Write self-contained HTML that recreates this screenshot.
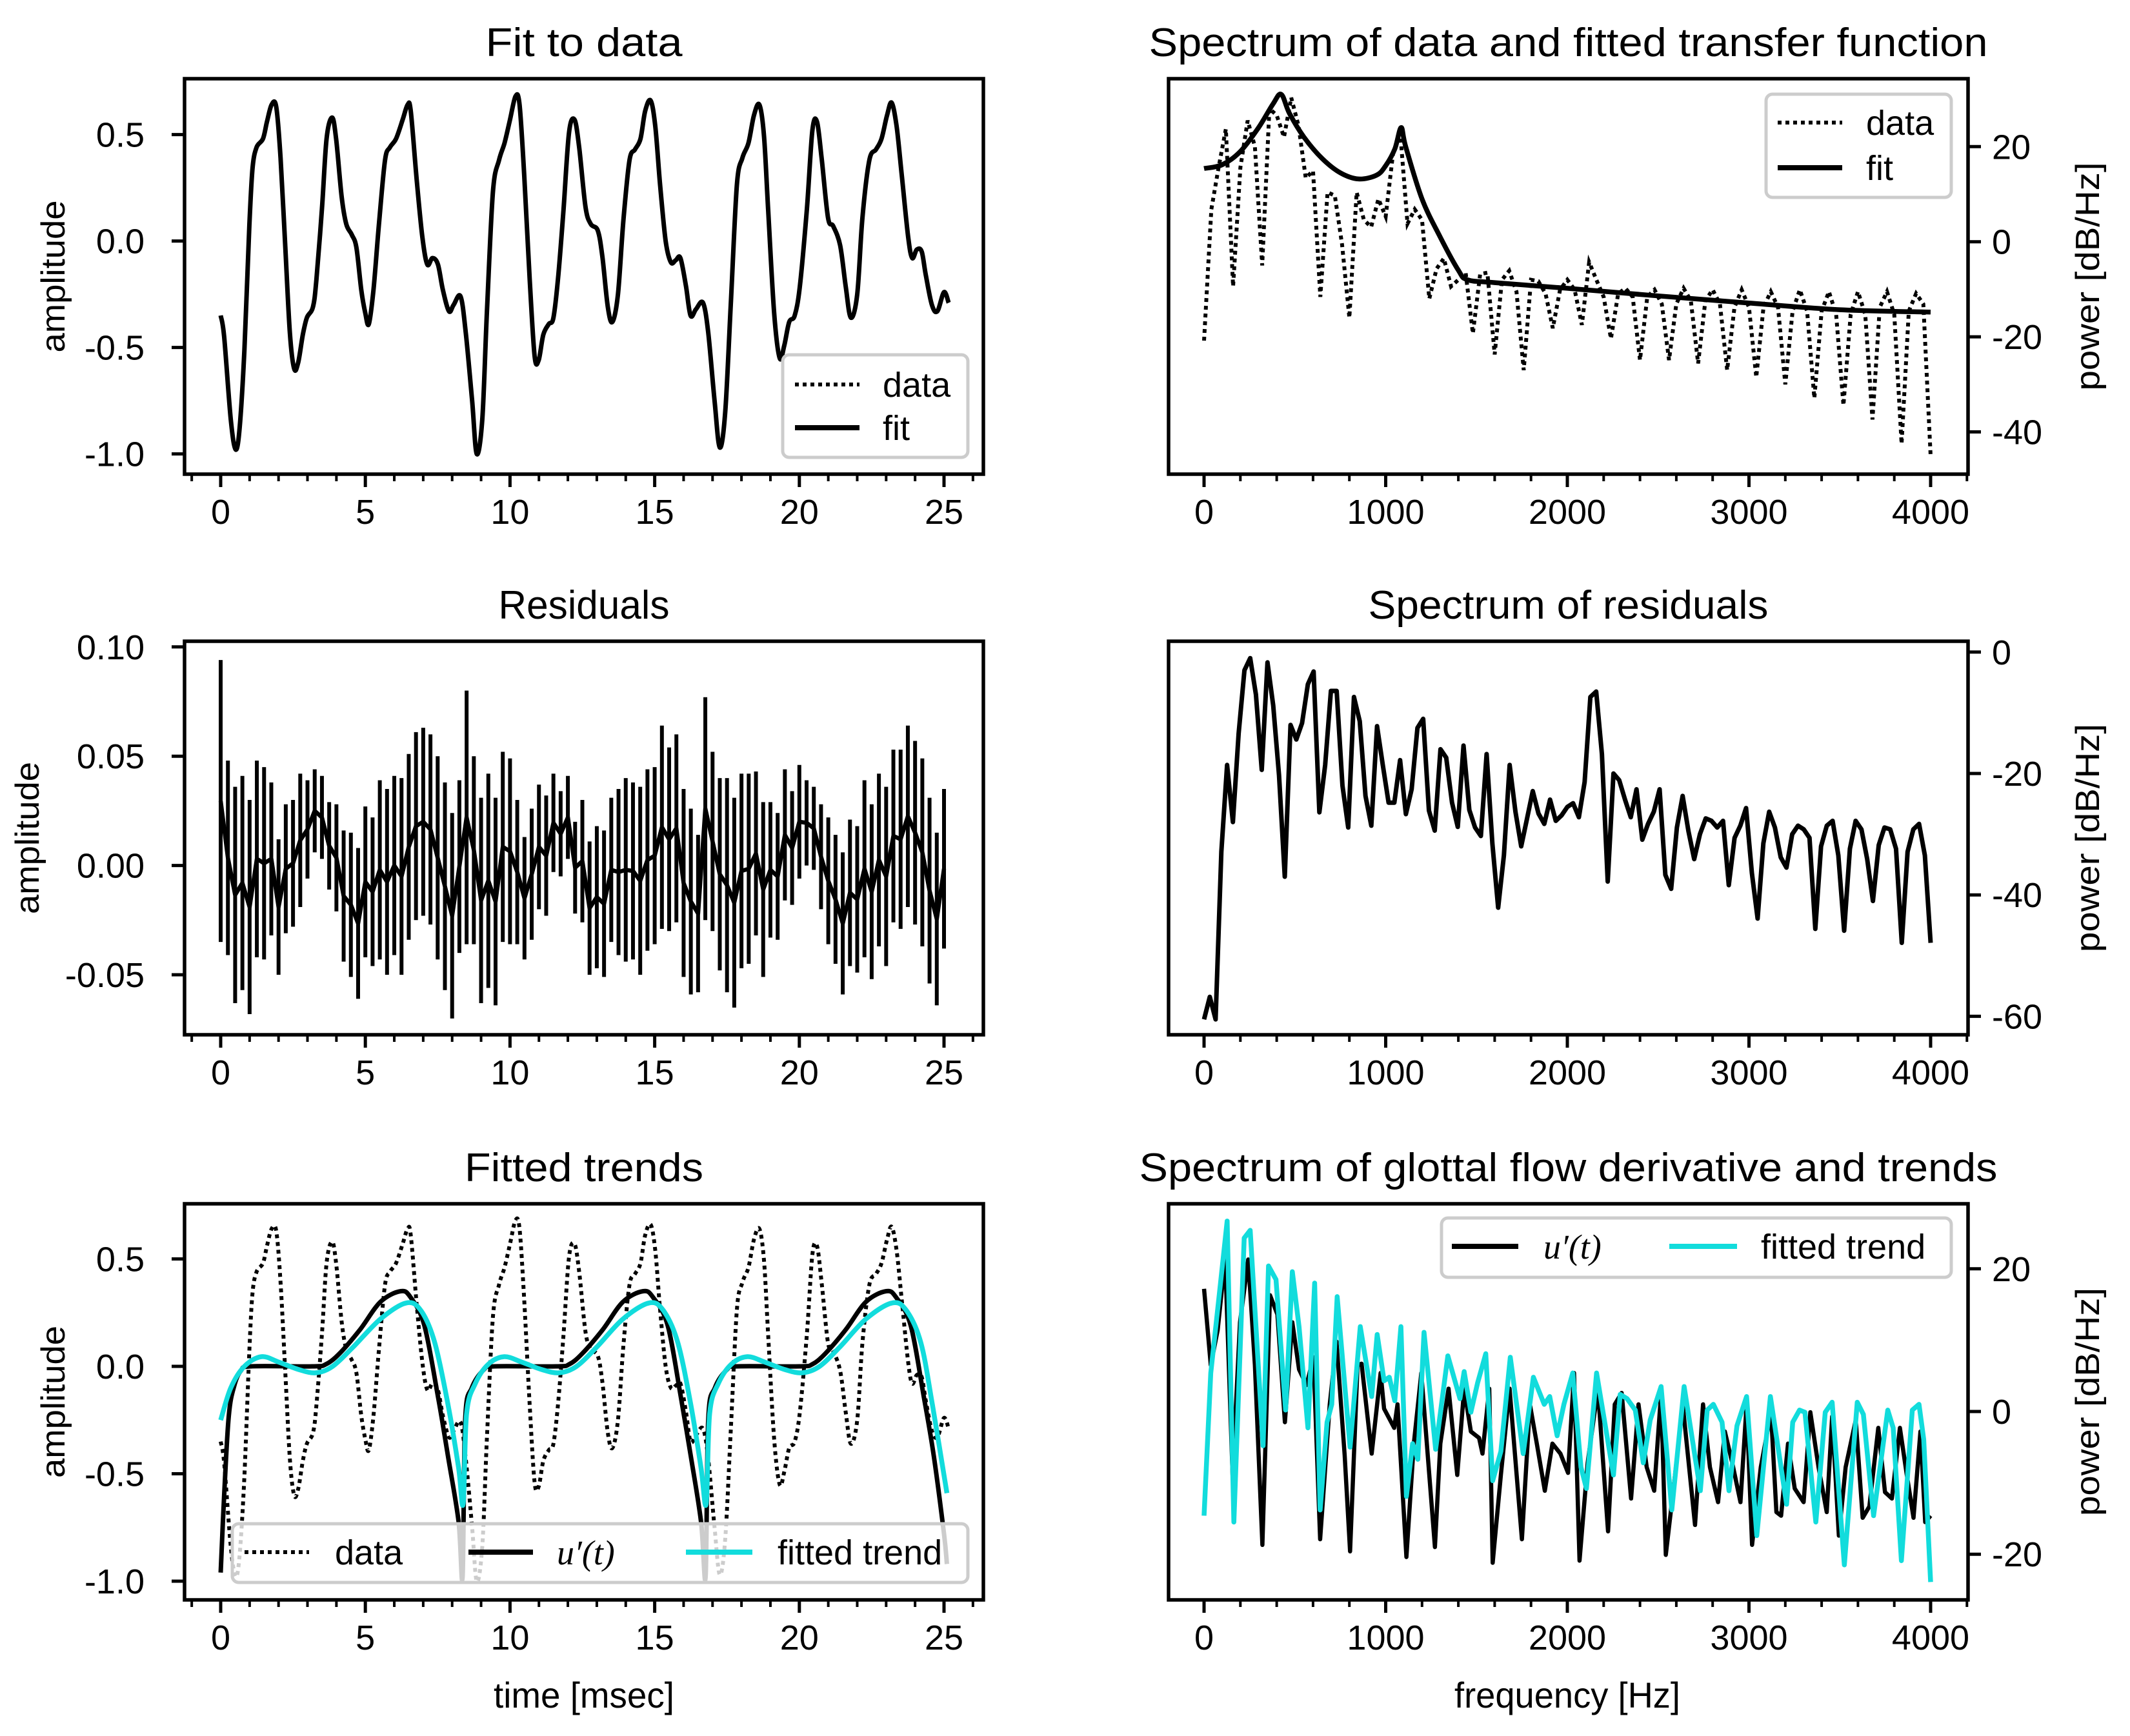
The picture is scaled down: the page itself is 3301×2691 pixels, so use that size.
<!DOCTYPE html>
<html><head><meta charset="utf-8"><title>Glottal analysis figure</title>
<style>
html,body{margin:0;padding:0;background:#fff;}
svg{display:block;font-family:"Liberation Sans",sans-serif;}
</style></head>
<body>
<svg id="fig" xmlns="http://www.w3.org/2000/svg" width="3301" height="2691" viewBox="0 0 3301 2691">
<rect x="0" y="0" width="3301" height="2691" fill="#fff"/>
</svg>
<script>
// ---------- data ----------
const waveT = [0,0.12,0.35,0.52,0.66,0.82,0.99,1.10,1.24,1.46,1.60,1.76,1.92,2.07,2.23,2.39,2.54,2.68,2.84,2.98,3.19,3.31,3.50,3.66,3.85,3.99,4.18,4.34,4.53,4.69,4.86,5.00,5.12,5.28,5.47,5.68,5.85,6.06,6.29,6.46,6.57,6.78,6.97,7.14,7.32,7.51,7.68,7.89,8.05,8.29,8.47,8.69,8.85,9.04,9.20,9.41,9.62,9.81,10.0,10.19,10.33,10.49,10.68,10.85,10.99,11.15,11.34,11.50,11.67,11.85,12.04,12.23,12.39,12.61,12.79,13.03,13.19,13.38,13.54,13.73,13.92,14.13,14.32,14.51,14.67,14.86,15.02,15.19,15.38,15.56,15.73,15.89,16.08,16.24,16.43,16.67,16.85,17.07,17.25,17.44,17.63,17.84,18.03,18.24,18.43,18.62,18.78,18.92,19.13,19.32,19.48,19.65,19.84,20.02,20.26,20.45,20.61,20.77,20.99,21.17,21.41,21.60,21.78,22.0,22.18,22.42,22.65,22.84,23.03,23.19,23.36,23.54,23.76,23.90,24.06,24.23,24.37,24.58,24.77,25.0,25.16];
const waveV = [-0.35,-0.45,-0.84,-0.98,-0.87,-0.51,0.07,0.34,0.44,0.48,0.56,0.64,0.63,0.39,-0.02,-0.43,-0.60,-0.57,-0.44,-0.36,-0.31,-0.18,0.15,0.48,0.58,0.48,0.21,0.08,0.03,-0.03,-0.23,-0.34,-0.39,-0.23,0.08,0.38,0.44,0.48,0.57,0.64,0.61,0.28,0.02,-0.11,-0.08,-0.11,-0.23,-0.33,-0.30,-0.26,-0.43,-0.75,-1.00,-0.84,-0.34,0.23,0.38,0.46,0.57,0.68,0.64,0.31,-0.18,-0.54,-0.56,-0.44,-0.39,-0.36,-0.16,0.15,0.51,0.57,0.44,0.16,0.08,0.05,-0.07,-0.31,-0.38,-0.25,0.10,0.38,0.43,0.48,0.61,0.66,0.54,0.26,0.00,-0.10,-0.09,-0.08,-0.21,-0.35,-0.32,-0.29,-0.43,-0.75,-0.97,-0.80,-0.30,0.26,0.39,0.46,0.59,0.64,0.49,0.15,-0.34,-0.55,-0.49,-0.38,-0.35,-0.21,0.15,0.52,0.56,0.39,0.11,0.07,-0.02,-0.21,-0.36,-0.25,0.11,0.38,0.43,0.48,0.59,0.65,0.54,0.31,0.02,-0.08,-0.04,-0.05,-0.16,-0.30,-0.33,-0.24,-0.29];

const residStep = 0.25;
const residHi = [0.094,0.048,0.036,0.041,0.030,0.048,0.045,0.038,0.012,0.028,0.030,0.042,0.039,0.044,0.041,0.029,0.028,0.016,0.015,0.008,0.027,0.022,0.039,0.035,0.041,0.040,0.051,0.061,0.063,0.060,0.050,0.038,0.024,0.039,0.080,0.050,0.031,0.042,0.031,0.052,0.049,0.030,0.013,0.026,0.037,0.032,0.042,0.034,0.041,0.020,0.030,0.011,0.018,0.016,0.031,0.035,0.040,0.038,0.036,0.044,0.045,0.064,0.054,0.060,0.035,0.026,0.014,0.077,0.052,0.040,0.040,0.031,0.042,0.042,0.043,0.029,0.029,0.024,0.044,0.034,0.046,0.039,0.036,0.028,0.022,0.014,0.006,0.021,0.018,0.039,0.028,0.042,0.036,0.053,0.053,0.064,0.057,0.049,0.031,0.015,0.035];
const residLo = [-0.035,-0.041,-0.063,-0.057,-0.068,-0.042,-0.043,-0.032,-0.050,-0.031,-0.028,-0.019,-0.006,0.006,0.003,-0.011,-0.021,-0.044,-0.051,-0.061,-0.042,-0.046,-0.043,-0.050,-0.041,-0.050,-0.034,-0.025,-0.023,-0.027,-0.043,-0.057,-0.070,-0.040,-0.036,-0.036,-0.063,-0.056,-0.064,-0.035,-0.036,-0.036,-0.043,-0.034,-0.020,-0.023,-0.003,-0.005,0.003,-0.022,-0.026,-0.050,-0.047,-0.051,-0.035,-0.041,-0.044,-0.043,-0.050,-0.039,-0.036,-0.029,-0.030,-0.026,-0.051,-0.059,-0.058,-0.025,-0.030,-0.048,-0.058,-0.065,-0.047,-0.045,-0.032,-0.051,-0.033,-0.034,-0.016,-0.018,-0.006,0.000,-0.002,-0.020,-0.036,-0.045,-0.059,-0.046,-0.049,-0.042,-0.052,-0.037,-0.046,-0.026,-0.029,-0.019,-0.027,-0.037,-0.054,-0.064,-0.038];

const specDataMax = 4000;
const specData = [-20.8,6.8,15.6,23.7,-9.4,15.6,25.5,20,-5,28,26.6,22,30.3,24.4,13.4,14.9,-11.6,10.4,9.7,-0.6,-16,10.4,4.6,3.1,9,5.3,18.5,23,3.8,6.8,4.6,-12,-5.7,-3.5,-9.4,-8,-6.5,-19.3,-6.8,-6.5,-23.7,-8,-6.1,-10.5,-27,-8,-8.3,-10.9,-18.2,-10.1,-8,-10.1,-17.5,-4.3,-8,-11.6,-20.4,-10.9,-9.8,-11.6,-24.9,-11.6,-10.1,-13.1,-24.9,-13.1,-9.8,-12.4,-25.6,-12.4,-10.1,-13.1,-27,-13.8,-10.1,-13.8,-28.5,-13.8,-10.5,-13.8,-30,-14.6,-10.1,-14.6,-32.9,-14.6,-10.5,-15.3,-34.4,-15.3,-10.5,-15.3,-37.4,-13.8,-10.5,-15.3,-42.5,-14.6,-10.9,-13.1,-45];
const fitF = [0,100,200,300,380,425,470,550,650,750,850,950,1000,1050,1085,1110,1200,1300,1400,1450,1600,2000,2500,3000,3500,4000];
const fitDb = [15.4,16.2,19,24,29,31,27,22,17.5,14.5,13.2,14,16,19.5,24,20,9,1,-6,-8,-8.6,-9.8,-11.4,-12.9,-14.3,-14.8];

const residSpec = [-60.5,-56.8,-60.5,-32.9,-18.6,-28,-13.4,-3,-1,-7,-19.4,-1.7,-8.8,-20.3,-37,-12,-14.4,-11.7,-5.3,-3.2,-26.4,-18.6,-6.4,-6.4,-22,-28.9,-7.4,-11.4,-23.7,-28.6,-12.2,-18.6,-24.8,-24.8,-17.8,-26.7,-22.6,-12.5,-11,-26.1,-29.4,-16,-17.4,-24.8,-28.8,-15.4,-26,-28.9,-30.3,-16.8,-31.5,-42.1,-33.5,-18.6,-26.3,-32,-27.5,-22.9,-26.6,-28.3,-24.3,-27.8,-26.9,-25.5,-24.9,-27.2,-21.4,-7.4,-6.5,-16.8,-37.8,-20,-21.1,-24.3,-27.2,-22.6,-30.9,-28.3,-26.3,-22.6,-36.7,-39,-28.9,-23.7,-29.5,-34.1,-30,-27.4,-27.8,-28.9,-27.8,-38.4,-30.6,-28.6,-25.7,-36.4,-43.9,-31.5,-26.3,-28.9,-33.8,-35.5,-30,-28.6,-29.2,-30.6,-45.6,-32,-28.6,-27.8,-33.5,-45.9,-32.4,-27.8,-29.2,-34.1,-41,-31.8,-28.9,-29.2,-32.4,-47.9,-32.9,-29.2,-28.3,-33.5,-47.9];
const residSpecMax = 4000;

const uT = [0,0.12,0.28,0.47,0.7,1.06,3.17,3.64,4.11,4.81,5.52,6.22,6.57,7.04,7.51,7.86,8.22,8.36,8.45,8.68,9.1,9.46,11.6,12.05,12.5,13.2,13.9,14.6,14.95,15.45,15.9,16.25,16.6,16.76,16.85,17.08,17.5,17.86,20.0,20.45,20.9,21.6,22.3,23.0,23.35,23.85,24.3,24.65,25.0,25.1];
const uV = [-0.96,-0.6,-0.23,-0.09,-0.02,0,0,0.01,0.06,0.17,0.30,0.35,0.32,0.19,-0.14,-0.42,-0.72,-0.98,-0.25,-0.10,-0.015,0,0,0.01,0.06,0.17,0.30,0.35,0.32,0.19,-0.14,-0.42,-0.72,-0.98,-0.25,-0.10,-0.015,0,0,0.01,0.06,0.17,0.30,0.35,0.32,0.19,-0.14,-0.42,-0.78,-0.92];
const trendT = [0,0.35,0.82,1.41,2.0,2.7,3.29,3.87,4.58,5.52,6.41,6.92,7.4,7.86,8.22,8.38,8.5,8.8,9.25,9.8,10.4,11.1,11.7,12.3,13.0,13.9,14.8,15.3,15.8,16.25,16.6,16.78,16.9,17.2,17.65,18.2,18.8,19.5,20.1,20.7,21.4,22.3,23.2,23.7,24.2,24.6,25.1];
const trendV = [-0.25,-0.1,0,0.045,0.02,-0.015,-0.03,0,0.09,0.22,0.295,0.26,0.11,-0.18,-0.47,-0.64,-0.22,-0.08,0.01,0.045,0.02,-0.015,-0.03,0,0.09,0.22,0.295,0.26,0.11,-0.18,-0.47,-0.64,-0.22,-0.08,0.01,0.045,0.02,-0.015,-0.03,0,0.09,0.22,0.295,0.26,0.11,-0.18,-0.59];

const uSpecF = [0,37,75,116,157,198,243,280,321,363,404,445,486,523,564,602,639,692,729,774,804,845,867,923,972,991,1047,1065,1114,1155,1196,1271,1301,1346,1394,1432,1469,1514,1533,1570,1589,1634,1682,1750,1794,1832,1876,1918,1962,2004,2037,2067,2112,2168,2224,2261,2299,2351,2392,2437,2478,2516,2542,2598,2635,2703,2747,2785,2830,2867,2908,2953,2987,3017,3065,3121,3151,3177,3215,3252,3301,3338,3383,3428,3458,3495,3532,3588,3626,3663,3712,3749,3787,3831,3869,3906,3944,3970,4000];
const uSpecDb = [17.2,6.5,11.4,21.5,-8.9,12.5,21.3,6.5,-18.7,16.3,13.6,-1.5,12.5,5.9,3.7,7.6,-17.9,1,9.8,-6.1,-19.6,6.5,6.7,-5.9,5.4,0.4,-2.3,1,-20.4,-4.5,5.4,-19,-4.5,3.2,-8.9,3.2,-2.8,-3.7,-5.9,3.2,-21.2,-8.9,3.2,-17.9,1,-4.5,-11.1,-4.5,-5.9,-8.6,5.4,-20.9,-7.2,3.2,-16.8,1,2.6,-12.2,1,-7.8,-11.1,2.6,-20.1,-7.8,1,-15.9,1,-7.8,-12.7,-2.8,-7.2,-12.7,1,-18.7,-7.8,-0.1,-14.1,-14.6,-4.5,-10.8,-12.7,-0.1,-7.8,-14.1,-0.7,-17.4,-7.8,-1.2,-14.9,-13.3,-2.3,-11.3,-12.2,-2.3,-8.9,-14.9,-2.8,-15.5,-14.6];
const trendSpecF = [0,37,86,127,164,221,254,325,355,396,449,486,523,572,609,639,677,703,733,804,860,923,953,991,1020,1050,1084,1114,1148,1177,1211,1275,1342,1409,1432,1469,1506,1551,1589,1634,1686,1757,1813,1873,1903,1944,1981,2030,2075,2105,2161,2254,2291,2329,2374,2418,2456,2516,2575,2643,2732,2770,2804,2852,2890,2934,2987,3043,3118,3207,3241,3278,3308,3368,3420,3458,3525,3596,3630,3686,3764,3794,3839,3899,3936,3962,4000];
const trendSpecDb = [-14.6,5.4,16.9,26.7,-15.5,24.3,25.4,-4.8,20.4,18.5,0.2,19.6,11.9,-2.3,18,-13.8,-1.5,1,16.1,-5,11.9,2.1,10.8,4.3,4.8,1.5,11.9,-11.9,-4.5,-6.7,11.1,-5.3,7.8,1.8,5.6,-0.1,4,8.1,-9.7,-5.6,7.6,-5.9,4.8,1,2.1,-3.4,1,5.4,-7.8,-10.8,5.4,-8.9,2.4,1.8,0.2,-7.2,-1.2,3.5,-13.8,3.5,-11.1,0.2,1,-1.5,-11.1,-2,2.1,-17.4,2.1,-13,-1.5,0.2,-0.1,-15.5,-0.1,1.3,-21.5,1.3,-0.4,-14.6,0.2,-2.3,-20.9,0.2,1,-3.9,-23.9];

const leftTicksX = [0,5,10,15,20,25];
const rightTicksX = [0,1000,2000,3000,4000];

// ---------- helpers ----------
const NS = "http://www.w3.org/2000/svg";
const svg = document.getElementById('fig');
function mk(tag, attrs, name, parent) {
  const e = document.createElementNS(NS, tag);
  for (const k in attrs) e.setAttribute(k, attrs[k]);
  
  
  (parent || svg).appendChild(e);
  return e;
}
function lin(d0, p0, d1, p1) { return v => p0 + (v - d0) * (p1 - p0) / (d1 - d0); }
function linePath(xs, ys, sx, sy) {
  let d = '';
  for (let i = 0; i < xs.length; i++) d += (i ? 'L' : 'M') + sx(xs[i]).toFixed(1) + ',' + sy(ys[i]).toFixed(1);
  return d;
}
function smoothPath(xs, ys, sx, sy) {
  const P = xs.map((x, i) => [sx(x), sy(ys[i])]);
  let d = 'M' + P[0][0].toFixed(1) + ',' + P[0][1].toFixed(1);
  for (let i = 0; i < P.length - 1; i++) {
    const p0 = P[Math.max(0, i - 1)], p1 = P[i], p2 = P[i + 1], p3 = P[Math.min(P.length - 1, i + 2)];
    const c1 = [p1[0] + (p2[0] - p0[0]) / 6, p1[1] + (p2[1] - p0[1]) / 6];
    const c2 = [p2[0] - (p3[0] - p1[0]) / 6, p2[1] - (p3[1] - p1[1]) / 6];
    d += 'C' + c1[0].toFixed(1) + ',' + c1[1].toFixed(1) + ' ' + c2[0].toFixed(1) + ',' + c2[1].toFixed(1) + ' ' + p2[0].toFixed(1) + ',' + p2[1].toFixed(1);
  }
  return d;
}

const LX0 = 286, LX1 = 1524, RX0 = 1811, RX1 = 3050;
const rows = [[122, 735], [994, 1604], [1866, 2480]];
const sxL = lin(0, 342, 25, 1463);
const sxR = lin(0, 1866, 4000, 2992);
const FONT = 54;
const LW = 7;
const CYAN = '#12dcdc';

function panel(id, x0, x1, y0, y1, title, titleLen, sx, xticks, minorStep, minorFrom, minorTo, sy, yticks, ylabels, side, ylabX) {
  const g = mk('g', {}, id + '-panel');
  const cp = mk('clipPath', { id: id + '-clip' }, id + '-clip', g);
  mk('rect', { x: x0, y: y0, width: x1 - x0, height: y1 - y0 }, id + '-clip-rect', cp);
  const t = mk('text', { x: (x0 + x1) / 2, y: y0 - 35, 'text-anchor': 'middle', 'font-size': 62, textLength: titleLen, lengthAdjust: 'spacingAndGlyphs' }, id + '-title', g);
  t.textContent = title;
  for (let v = minorFrom; v <= minorTo + 1e-9; v += minorStep) {
    const X = sx(v);
    if (X < x0 - 1 || X > x1 + 1) continue;
    mk('line', { x1: X, y1: y1, x2: X, y2: y1 + 11, stroke: '#000', 'stroke-width': 4 }, id + '-x-minor-tick', g);
  }
  xticks.forEach(v => {
    const X = sx(v);
    mk('line', { x1: X, y1: y1, x2: X, y2: y1 + 20, stroke: '#000', 'stroke-width': 5 }, id + '-x-tick', g);
    const tl = mk('text', { x: X, y: y1 + 77, 'text-anchor': 'middle', 'font-size': FONT }, id + '-x-tick-label', g);
    tl.textContent = String(v);
  });
  yticks.forEach((v, i) => {
    const Y = sy(v);
    if (side === 'left') {
      mk('line', { x1: x0 - 20, y1: Y, x2: x0, y2: Y, stroke: '#000', 'stroke-width': 5 }, id + '-y-tick', g);
      const tl = mk('text', { x: x0 - 62, y: Y + 19, 'text-anchor': 'end', 'font-size': FONT }, id + '-y-tick-label', g);
      tl.textContent = ylabels[i];
    } else {
      mk('line', { x1: x1, y1: Y, x2: x1 + 20, y2: Y, stroke: '#000', 'stroke-width': 5 }, id + '-y-tick', g);
      const tl = mk('text', { x: x1 + 37, y: Y + 19, 'text-anchor': 'start', 'font-size': FONT }, id + '-y-tick-label', g);
      tl.textContent = ylabels[i];
    }
  });
  const yc = (y0 + y1) / 2;
  if (side === 'left') {
    const yl = mk('text', { x: 0, y: 0, transform: 'translate(' + ylabX + ',' + yc + ') rotate(-90)', 'text-anchor': 'middle', 'font-size': 52, textLength: 236, lengthAdjust: 'spacingAndGlyphs' }, id + '-y-axis-title', g);
    yl.textContent = 'amplitude';
  } else {
    const yl = mk('text', { x: 0, y: 0, transform: 'translate(3253,' + yc + ') rotate(-90)', 'text-anchor': 'middle', 'font-size': 52, textLength: 354, lengthAdjust: 'spacingAndGlyphs' }, id + '-y-axis-title', g);
    yl.textContent = 'power [dB/Hz]';
  }
  const plot = mk('g', { 'clip-path': 'url(#' + id + '-clip)' }, id + '-plot-area', g);
  return { g, plot, frame: () => mk('rect', { x: x0, y: y0, width: x1 - x0, height: y1 - y0, fill: 'none', stroke: '#000', 'stroke-width': 5.5 }, id + '-frame', g) };
}

function legend(g, id, x, y, w, h, entries) {
  const lg = mk('g', {}, id + '-legend', g);
  mk('rect', { x, y, width: w, height: h, rx: 10, fill: '#fff', 'fill-opacity': 0.8, stroke: '#cccccc', 'stroke-width': 5 }, id + '-legend-frame', lg);
  entries.forEach(e => {
    const attrs = { x1: e.lx0, y1: e.y, x2: e.lx1, y2: e.y, stroke: e.color, 'stroke-width': e.w || 8 };
    if (e.dash) attrs['stroke-dasharray'] = e.dash;
    mk('line', attrs, id + '-legend-swatch-' + e.key, lg);
    const t = mk('text', { x: e.tx, y: e.y + 19, 'font-size': FONT }, id + '-legend-label-' + e.key, lg);
    if (e.key === 'uprime') {
      t.setAttribute('font-family', '"Liberation Serif", serif');
      t.setAttribute('font-style', 'italic');
      t.textContent = 'u\u2032(t)';
    } else t.textContent = e.label;
  });
}

// ---------- Panel 1: Fit to data ----------
{
  const sy = lin(0, 373.6, 0.5, 208.6);
  const p = panel('fit', LX0, LX1, rows[0][0], rows[0][1], 'Fit to data', 305, sxL, leftTicksX, 1, -1, 26, sy, [0.5, 0, -0.5, -1], ['0.5', '0.0', '-0.5', '-1.0'], 'left', 100);
  mk('path', { d: smoothPath(waveT, waveV, sxL, sy), fill: 'none', stroke: '#000', 'stroke-width': 6, 'stroke-dasharray': '6,6' }, 'data-line', p.plot);
  mk('path', { d: smoothPath(waveT, waveV, sxL, sy), fill: 'none', stroke: '#000', 'stroke-width': LW, 'stroke-linejoin': 'round' }, 'fit-line', p.plot);
  legend(p.g, 'fit', 1213, 550, 287, 159, [
    { key: 'data', label: 'data', lx0: 1232, lx1: 1332, y: 596, tx: 1368, color: '#000', dash: '6,6', w: 6 },
    { key: 'fit', label: 'fit', lx0: 1232, lx1: 1332, y: 663, tx: 1368, color: '#000' }]);
  p.frame();
}
// ---------- Panel 2: Spectrum of data + fit ----------
{
  const sy = lin(0, 374.7, 20, 227.3);
  const p = panel('spec', RX0, RX1, rows[0][0], rows[0][1], 'Spectrum of data and fitted transfer function', 1300, sxR, rightTicksX, 200, -200, 4200, sy, [20, 0, -20, -40], ['20', '0', '-20', '-40'], 'right');
  const fs = specData.map((v, i) => i * specDataMax / (specData.length - 1));
  mk('path', { d: linePath(fs, specData, sxR, sy), fill: 'none', stroke: '#000', 'stroke-width': 6, 'stroke-dasharray': '6,6' }, 'spectrum-data-line', p.plot);
  mk('path', { d: smoothPath(fitF, fitDb, sxR, sy), fill: 'none', stroke: '#000', 'stroke-width': 7.5, 'stroke-linejoin': 'round' }, 'transfer-fit-line', p.plot);
  legend(p.g, 'spec', 2737, 146, 287, 160, [
    { key: 'data', label: 'data', lx0: 2755, lx1: 2855, y: 190, tx: 2892, color: '#000', dash: '6,6', w: 6 },
    { key: 'fit', label: 'fit', lx0: 2755, lx1: 2855, y: 260, tx: 2892, color: '#000' }]);
  p.frame();
}
// ---------- Panel 3: Residuals ----------
{
  const sy = lin(0, 1341.6, 0.05, 1172.2);
  const p = panel('resid', LX0, LX1, rows[1][0], rows[1][1], 'Residuals', 265, sxL, leftTicksX, 1, -1, 26, sy, [0.10, 0.05, 0, -0.05], ['0.10', '0.05', '0.00', '-0.05'], 'left', 60);
  const bars = mk('g', {}, 'residual-bars', p.plot);
  residHi.forEach((h, i) => {
    const X = sxL(i * residStep);
    mk('line', { x1: X, y1: sy(h), x2: X, y2: sy(residLo[i]), stroke: '#000', 'stroke-width': 6 }, 'residual-bar', bars);
  });
  const mt = residHi.map((h, i) => i * residStep);
  const mv = residHi.map((h, i) => (h + residLo[i]) / 2);
  mk('path', { d: linePath(mt, mv, sxL, sy), fill: 'none', stroke: '#000', 'stroke-width': 6.5, 'stroke-linejoin': 'round' }, 'residual-mean-line', p.plot);
  p.frame();
}
// ---------- Panel 4: Spectrum of residuals ----------
{
  const sy = lin(0, 1010.8, -20, 1199.0);
  const p = panel('rspec', RX0, RX1, rows[1][0], rows[1][1], 'Spectrum of residuals', 620, sxR, rightTicksX, 200, -200, 4200, sy, [0, -20, -40, -60], ['0', '-20', '-40', '-60'], 'right');
  const fs = residSpec.map((v, i) => i * residSpecMax / (residSpec.length - 1));
  mk('path', { d: linePath(fs, residSpec, sxR, sy), fill: 'none', stroke: '#000', 'stroke-width': LW, 'stroke-linejoin': 'round' }, 'residual-spectrum-line', p.plot);
  p.frame();
}
// ---------- Panel 5: Fitted trends ----------
{
  const sy = lin(0, 2118, 0.5, 1951.5);
  const p = panel('trend', LX0, LX1, rows[2][0], rows[2][1], 'Fitted trends', 370, sxL, leftTicksX, 1, -1, 26, sy, [0.5, 0, -0.5, -1], ['0.5', '0.0', '-0.5', '-1.0'], 'left', 100);
  mk('path', { d: smoothPath(waveT, waveV, sxL, sy), fill: 'none', stroke: '#000', 'stroke-width': 6, 'stroke-dasharray': '6,6' }, 'data-line', p.plot);
  mk('path', { d: smoothPath(uT, uV, sxL, sy), fill: 'none', stroke: '#000', 'stroke-width': LW, 'stroke-linejoin': 'round' }, 'u-prime-line', p.plot);
  mk('path', { d: smoothPath(trendT, trendV, sxL, sy), fill: 'none', stroke: CYAN, 'stroke-width': 7.5, 'stroke-linejoin': 'round' }, 'fitted-trend-line', p.plot);
  legend(p.g, 'trend', 360, 2362, 1140, 91, [
    { key: 'data', label: 'data', lx0: 379, lx1: 479, y: 2406, tx: 519, color: '#000', dash: '6,6', w: 6 },
    { key: 'uprime', label: '', lx0: 726, lx1: 826, y: 2406, tx: 863, color: '#000' },
    { key: 'trend', label: 'fitted trend', lx0: 1063, lx1: 1166, y: 2406, tx: 1205, color: CYAN }]);
  p.frame();
  const xl = mk('text', { x: 905, y: 2647, 'text-anchor': 'middle', 'font-size': 56, textLength: 280, lengthAdjust: 'spacingAndGlyphs' }, 'x-axis-title-time', p.g);
  xl.textContent = 'time [msec]';
}
// ---------- Panel 6: Spectrum of glottal flow derivative ----------
{
  const sy = lin(0, 2188, 20, 1966.8);
  const p = panel('gspec', RX0, RX1, rows[2][0], rows[2][1], 'Spectrum of glottal flow derivative and trends', 1330, sxR, rightTicksX, 200, -200, 4200, sy, [20, 0, -20], ['20', '0', '-20'], 'right');
  mk('path', { d: linePath(uSpecF, uSpecDb, sxR, sy), fill: 'none', stroke: '#000', 'stroke-width': 6.5, 'stroke-linejoin': 'round' }, 'u-prime-spectrum-line', p.plot);
  mk('path', { d: linePath(trendSpecF, trendSpecDb, sxR, sy), fill: 'none', stroke: CYAN, 'stroke-width': 7.5, 'stroke-linejoin': 'round' }, 'trend-spectrum-line', p.plot);
  legend(p.g, 'gspec', 2234, 1888, 790, 92, [
    { key: 'uprime', label: '', lx0: 2250, lx1: 2353, y: 1932, tx: 2392, color: '#000' },
    { key: 'trend', label: 'fitted trend', lx0: 2587, lx1: 2692, y: 1932, tx: 2729, color: CYAN }]);
  p.frame();
  const xl = mk('text', { x: 2429, y: 2647, 'text-anchor': 'middle', 'font-size': 56, textLength: 350, lengthAdjust: 'spacingAndGlyphs' }, 'x-axis-title-frequency', p.g);
  xl.textContent = 'frequency [Hz]';
}
</script>
</body></html>
